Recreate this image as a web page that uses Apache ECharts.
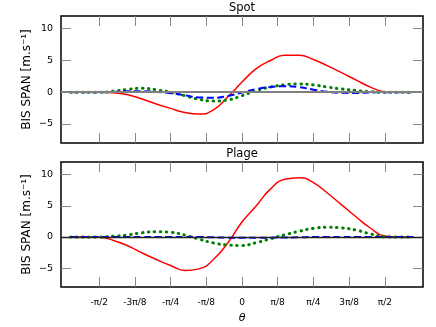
<!DOCTYPE html>
<html>
<head>
<meta charset="utf-8">
<script src="https://cdn.jsdelivr.net/npm/echarts@6/dist/echarts.min.js"></script>
<style>
  html, body { margin: 0; padding: 0; background: #fff; }
  #chart { width: 436px; height: 327px; }
</style>
</head>
<body>
<div id="chart"></div>
<script>
// theta in units of pi/8
const theta = [-4.8, -4.4, -4.0, -3.6, -3.2, -2.8, -2.4, -2.0, -1.6, -1.2, -0.8, -0.4, 0,
  0.4, 0.8, 1.2, 1.6, 2.0, 2.4, 2.8, 3.2, 3.6, 4.0, 4.4, 4.8];

// Spot
const spotRed = [0, 0, 0, -0.1, -0.4, -1.08, -1.85, -2.55, -3.2, -3.45, -2.8, -0.75, 1.6,
  3.7, 5.0, 5.8, 5.8, 5.15, 4.15, 3.05, 1.9, 0.8, 0.08, 0, 0];
const spotGreen = [0, 0, 0, 0.15, 0.45, 0.62, 0.37, 0.0, -0.55, -1.12, -1.4, -1.22, -0.55,
  0.25, 0.82, 1.17, 1.3, 1.15, 0.8, 0.5, 0.27, 0.08, 0, 0, 0];
const spotBlue = [0, 0, 0, 0.05, 0.15, 0.15, 0.03, -0.15, -0.5, -0.82, -0.88, -0.6, -0.05,
  0.5, 0.82, 0.95, 0.8, 0.4, 0.05, -0.1, -0.12, -0.06, 0, 0, 0];

// Plage
const plageRed = [0, 0, -0.03, -0.55, -1.4, -2.55, -3.6, -4.55, -5.35, -5.1, -3.6, -0.95, 2.4,
  5.0, 7.7, 9.25, 9.5, 8.7, 7.0, 5.1, 3.2, 1.4, 0.15, 0, 0];
const plageGreen = [0, 0, 0, 0.12, 0.32, 0.68, 0.85, 0.75, 0.3, -0.35, -0.95, -1.28, -1.35,
  -0.9, -0.28, 0.35, 0.92, 1.38, 1.55, 1.45, 1.1, 0.5, 0.05, 0, 0];
const plageBlue = [0, 0, 0, 0, 0, 0, 0, 0, 0, 0, -0.05, -0.1, -0.12,
  -0.12, -0.1, -0.08, -0.05, 0, 0, 0, 0, 0, 0, 0, 0];

const xTicks = [-4, -3, -2, -1, 0, 1, 2, 3, 4];
const xTickLabels = ['-\u03c0/2', '-3\u03c0/8', '-\u03c0/4', '-\u03c0/8', '0', '\u03c0/8', '\u03c0/4', '3\u03c0/8', '\u03c0/2'];
const yTicks = [-5, 0, 5, 10];
const yTickLabels = ['\u22125', '0', '5', '10'];

const FONT = 'DejaVu Sans';
const tickStyle = { show: true, inside: true, length: 10, lineStyle: { color: '#888', width: 1 } };

function pairs(ys) {
  return theta.map((t, i) => [t, ys[i]]);
}

function xAxes(gi, withLabels) {
  const base = {
    type: 'value', gridIndex: gi, min: -5.07, max: 5.07,
    axisLine: { show: false, onZero: false }, splitLine: { show: false }
  };
  return [
    Object.assign({}, base, {
      position: 'bottom',
      axisTick: Object.assign({ customValues: xTicks }, tickStyle),
      axisLabel: {
        show: withLabels, customValues: xTicks, margin: 11,
        fontFamily: FONT, fontSize: 9, color: '#000',
        formatter: v => xTickLabels[xTicks.indexOf(Math.round(v))]
      },
      name: withLabels ? '\u03b8' : '', nameLocation: 'middle', nameGap: 26, nameMoveOverlap: false,
      nameTextStyle: { fontFamily: FONT, fontSize: 11, fontStyle: 'italic', color: '#000' }
    }),
    Object.assign({}, base, {
      position: 'top',
      axisTick: Object.assign({ customValues: xTicks }, tickStyle),
      axisLabel: { show: false }
    })
  ];
}

function yAxes(gi) {
  const base = {
    type: 'value', gridIndex: gi, min: -8, max: 12,
    axisLine: { show: false, onZero: false }, splitLine: { show: false }
  };
  return [
    Object.assign({}, base, {
      position: 'left',
      axisTick: Object.assign({ customValues: yTicks }, tickStyle),
      axisLabel: {
        customValues: yTicks, margin: 8, fontFamily: FONT, fontSize: 9.5, color: '#000',
        formatter: v => yTickLabels[yTicks.indexOf(Math.round(v))]
      },
      name: 'BIS SPAN [m.s\u207b\u00b9]', nameLocation: 'middle', nameGap: 28, nameRotate: 90,
      nameMoveOverlap: false,
      nameTextStyle: { fontFamily: FONT, fontSize: 12, color: '#000' }
    }),
    Object.assign({}, base, {
      position: 'right',
      axisTick: Object.assign({ customValues: yTicks }, tickStyle),
      axisLabel: { show: false }
    })
  ];
}

function panelSeries(gi, red, green, blue, zeroColor, zeroWidth) {
  const ax = { xAxisIndex: gi * 2, yAxisIndex: gi * 2 };
  const common = { type: 'line', showSymbol: false, smooth: 0.5, animation: false };
  return [
    Object.assign({}, common, ax, {
      data: pairs(red), z: 2,
      lineStyle: { color: '#ff0000', width: 1.5 },
      markLine: {
        silent: true, symbol: 'none', label: { show: false }, animation: false,
        lineStyle: { color: zeroColor, width: zeroWidth, type: 'solid' },
        data: [{ yAxis: 0 }]
      }
    }),
    Object.assign({}, common, ax, {
      data: pairs(green), z: 3,
      lineStyle: { color: '#008000', width: 3, type: [0.5, 5.5], cap: 'round' }
    }),
    Object.assign({}, common, ax, {
      data: pairs(blue), z: 4,
      lineStyle: { color: '#0000ff', width: 2, type: [7, 3.5] }
    })
  ];
}

let myChart = echarts.init(document.getElementById('chart'));
myChart.setOption({
  animation: false,
  grid: [
    { left: 61, top: 16, width: 362, height: 127, show: true, borderColor: '#000', borderWidth: 1.5, backgroundColor: 'transparent' },
    { left: 61, top: 162, width: 362, height: 125, show: true, borderColor: '#000', borderWidth: 1.5, backgroundColor: 'transparent' }
  ],
  xAxis: xAxes(0, false).concat(xAxes(1, true)),
  yAxis: yAxes(0).concat(yAxes(1)),
  graphic: [
    { type: 'text', x: 242, y: 8, style: { text: 'Spot', font: '11.5px "DejaVu Sans"', fill: '#000', align: 'center', verticalAlign: 'middle' } },
    { type: 'text', x: 242, y: 154, style: { text: 'Plage', font: '11.5px "DejaVu Sans"', fill: '#000', align: 'center', verticalAlign: 'middle' } }
  ],
  series: panelSeries(0, spotRed, spotGreen, spotBlue, '#808080', 2)
    .concat(panelSeries(1, plageRed, plageGreen, plageBlue, '#222', 1.3))
});
</script>
</body>
</html>
